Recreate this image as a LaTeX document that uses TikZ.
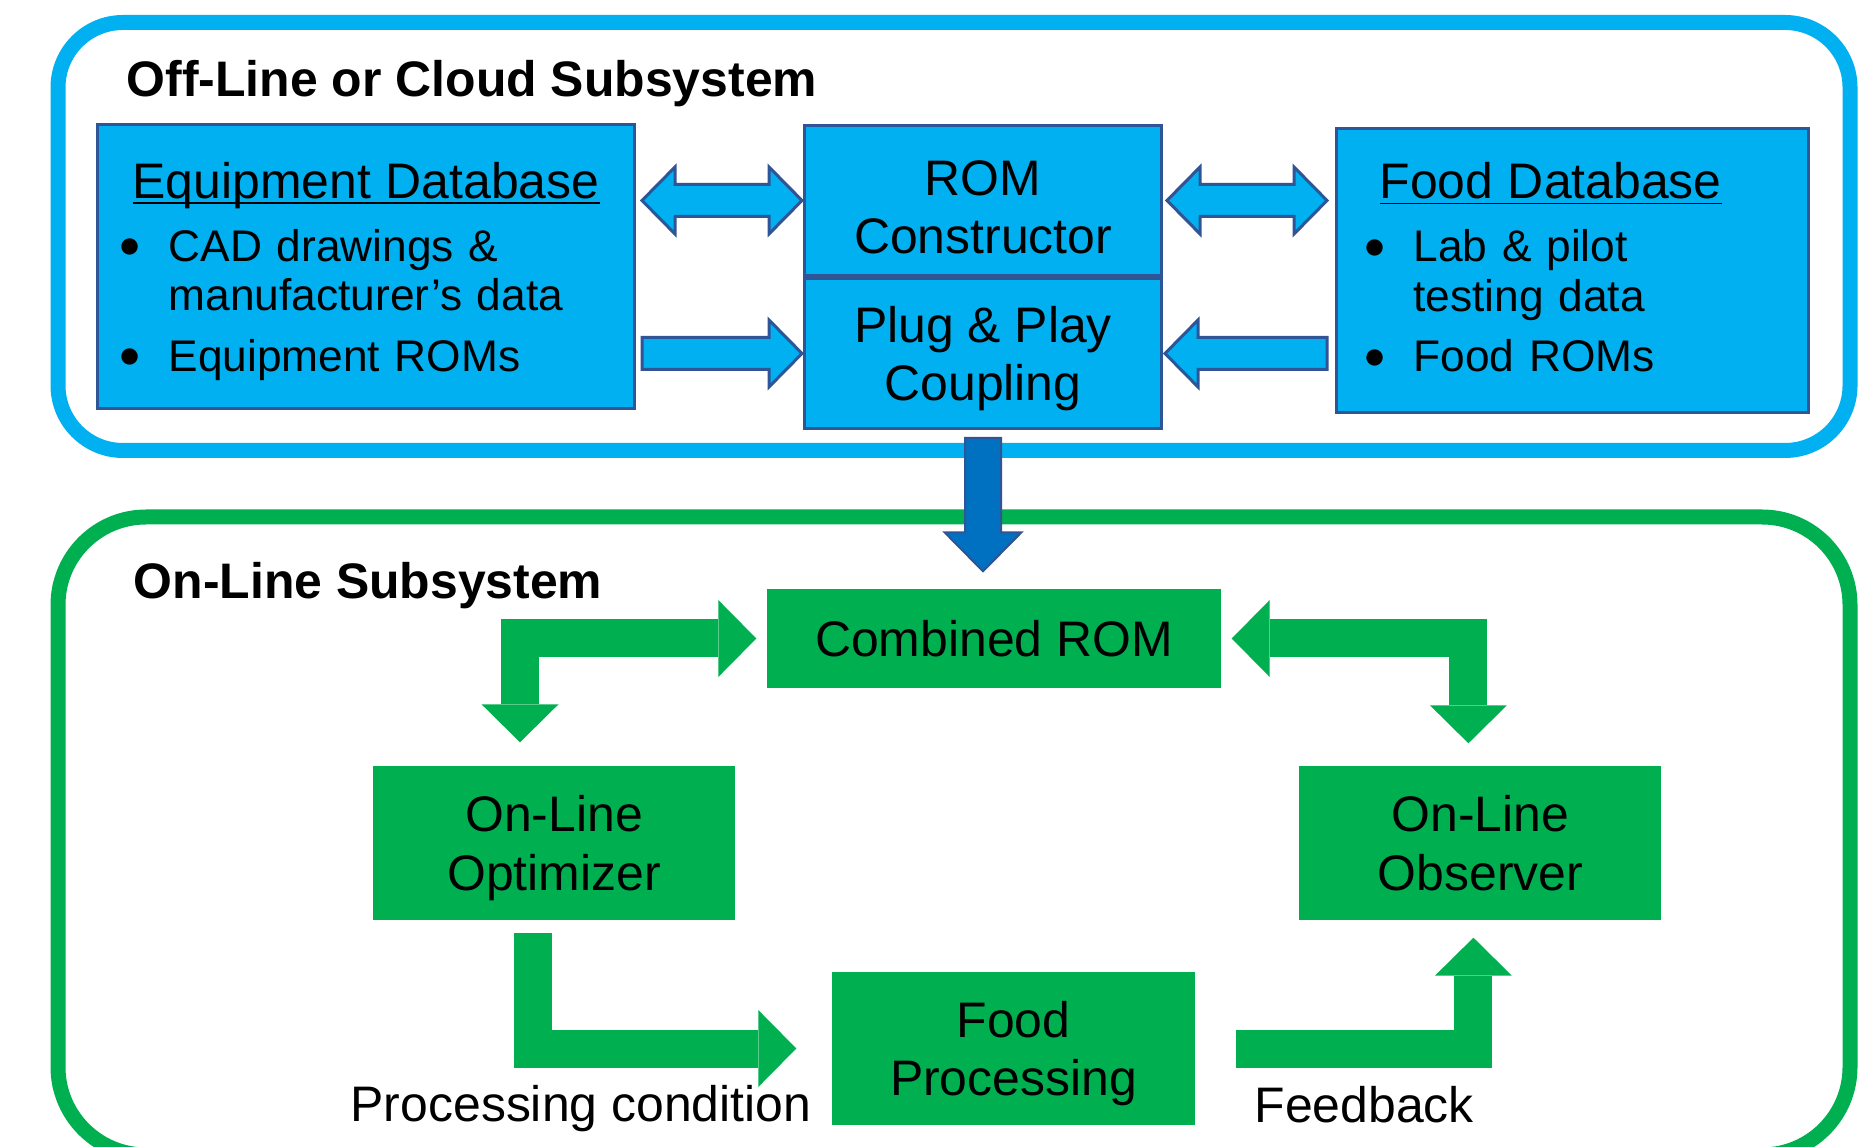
\documentclass[tikz,border=0pt]{standalone}
\usepackage{fontspec}
\setmainfont{Liberation Sans}
\usepackage{tikz}
\usetikzlibrary{arrows.meta, positioning, calc}
\definecolor{cloudblue}{RGB}{0,176,240}
\definecolor{edgeblue}{RGB}{47,85,151}
\definecolor{pushblue}{RGB}{0,112,192}
\definecolor{onlinegreen}{RGB}{0,176,80}

\tikzset{
  block one/.style n args={3}{to path={
      ($(\tikztotarget)!#1!(\tikztostart)$) coordinate (tb)
      ($(\tikztostart)!#3!90:(\tikztotarget)$)
      -- ($(tb)!#3!90:(\tikztotarget)$) -- ($(tb)!#2!90:(\tikztotarget)$)
      -- (\tikztotarget)
      -- ($(tb)!#2!-90:(\tikztotarget)$) -- ($(tb)!#3!-90:(\tikztotarget)$)
      -- ($(\tikztostart)!#3!-90:(\tikztotarget)$) -- cycle}},
  block two/.style n args={3}{to path={
      ($(\tikztotarget)!#1!(\tikztostart)$) coordinate (tb)
      ($(\tikztostart)!#1!(\tikztotarget)$) coordinate (sb)
      (\tikztostart)
      -- ($(sb)!#2!90:(\tikztotarget)$) -- ($(sb)!#3!90:(\tikztotarget)$)
      -- ($(tb)!#3!90:(\tikztotarget)$) -- ($(tb)!#2!90:(\tikztotarget)$)
      -- (\tikztotarget)
      -- ($(tb)!#2!-90:(\tikztotarget)$) -- ($(tb)!#3!-90:(\tikztotarget)$)
      -- ($(sb)!#3!-90:(\tikztotarget)$) -- ($(sb)!#2!-90:(\tikztotarget)$) -- cycle}}
}

\begin{document}
\begin{tikzpicture}[
    node distance=0cm,
    dbbox/.style={rectangle, draw=edgeblue, fill=cloudblue, line width=0.03cm,
                  minimum width=5.37cm, minimum height=2.84cm, text width=4.93cm,
                  inner xsep=0.22cm, align=left,
                  font=\fontsize{12.6}{14.2}\selectfont},
    rombox/.style={rectangle, draw=edgeblue, fill=cloudblue, line width=0.03cm,
                   minimum width=3.57cm, minimum height=1.50cm, align=center,
                   font=\fontsize{14.2}{16.5}\selectfont},
    livebox/.style={rectangle, fill=onlinegreen, minimum width=3.62cm,
                    minimum height=1.54cm, align=center,
                    font=\fontsize{14.2}{16.6}\selectfont},
    sysframe/.style={rounded corners=0.65cm, line width=0.15cm},
    heading/.style={anchor=base west, inner sep=0pt,
                    font=\bfseries\fontsize{14.2}{17}\selectfont},
    flowtag/.style={anchor=base west, inner sep=0pt,
                    font=\fontsize{14.2}{17}\selectfont},
    cloudarrow/.style={draw=edgeblue, fill=cloudblue, line width=0.03cm},
    pusharrow/.style={draw=edgeblue, fill=pushblue, line width=0.02cm},
    greenflow/.style={draw=onlinegreen, line width=0.38cm, line join=miter,
                      >={Triangle[length=0.38cm, width=0.77cm, line width=0pt]}}
  ]
    \useasboundingbox (0,0) rectangle (18.74,11.46);
    \clip (0,0) rectangle (18.74,11.46);

    \draw[sysframe, draw=cloudblue] (0.58,6.955) rectangle (18.50,11.235);
    \draw[sysframe, draw=onlinegreen, rounded corners=0.88cm] (0.58,-0.09) rectangle (18.50,6.29);

    \node[heading] (offtitle) at (1.26,10.49) {Off-Line or Cloud Subsystem};
    \node[heading] (ontitle)  at (1.33,5.47)  {On-Line Subsystem};

    \node[dbbox] (eqdb) at (3.66,8.795) {%
      {\fontsize{14.2}{14.2}\selectfont\hspace*{0.13cm}\underline{\raisebox{0pt}[\height][0pt]{Equipment Database}}}\\[3.7pt]
      \makebox[0.49cm][l]{\raisebox{1pt}{$\bullet$}}CAD drawings \&\\
      \hspace*{0.49cm}manufacturer's data\\[2.9pt]
      \makebox[0.49cm][l]{\raisebox{1pt}{$\bullet$}}\smash{Equipment ROMs}};
    \node[rombox] (romc) at (9.83,9.455) {\rule{0pt}{0.49cm}ROM\\Constructor};
    \node[rombox, below=of romc] (plug) {Plug \& Play\\\smash{Coupling}};
    \node[dbbox, minimum width=4.72cm, text width=4.16cm, inner xsep=0.28cm] (fdb) at (15.725,8.755) {%
      {\fontsize{14.2}{14.2}\selectfont\hspace*{0.15cm}\underline{\raisebox{0pt}[\height][0pt]{Food Database}}}\\[3.7pt]
      \makebox[0.49cm][l]{\raisebox{1pt}{$\bullet$}}Lab \& pilot\\
      \hspace*{0.49cm}testing data\\[2.9pt]
      \makebox[0.49cm][l]{\raisebox{1pt}{$\bullet$}}Food ROMs\rule[-0.07cm]{0pt}{0pt}};

    \node[livebox, minimum width=4.54cm, minimum height=0.99cm] (crom) at (9.94,5.075) {Combined ROM};
    \node[livebox] (opt) at (5.54,3.03) {On-Line\\\smash{Optimizer}};
    \node[livebox, right=5.63cm of opt] (obs) {On-Line\\Observer};
    \node[livebox, minimum width=3.63cm, minimum height=1.53cm] (fproc) at (10.135,0.975) {Food\\\smash{Processing}};

    \node[flowtag] (condtag) at (3.50,0.25) {Processing condition};
    \node[flowtag] (backtag) at (12.54,0.24) {Feedback};

    \draw[cloudarrow, block two={0.33cm}{0.335cm}{0.16cm}]
      ([xshift=0.06cm]eqdb.east |- romc.west) to ([xshift=-0.01cm]romc.west);
    \draw[cloudarrow, block one={0.33cm}{0.335cm}{0.16cm}]
      ([xshift=0.06cm]eqdb.east |- plug.west) to ([xshift=-0.01cm]plug.west);
    \draw[cloudarrow, block two={0.33cm}{0.335cm}{0.16cm}]
      ([xshift=0.04cm]romc.east) to ([xshift=-0.08cm]fdb.west |- romc.east);
    \draw[cloudarrow, block one={0.33cm}{0.335cm}{0.16cm}]
      ([xshift=-0.08cm]fdb.west |- plug.east) to ([xshift=0.02cm]plug.east);
    \draw[pusharrow, block one={0.39cm}{0.385cm}{0.18cm}]
      ([yshift=-0.08cm]plug.south) to ([yshift=0.17cm]plug.south |- crom.north);

    \draw[greenflow, <->] ([xshift=-0.10cm]crom.west) -| ([xshift=-0.34cm, yshift=0.23cm]opt.north);
    \draw[greenflow, <->] ([xshift=0.10cm]crom.east) -| ([xshift=-0.12cm, yshift=0.22cm]obs.north);
    \draw[greenflow, ->] ([xshift=-0.21cm, yshift=-0.12cm]opt.south) |- ([xshift=-0.35cm]fproc.west);
    \draw[greenflow, ->] ([xshift=0.40cm]fproc.east) -| ([xshift=-0.07cm, yshift=-0.17cm]obs.south);
  \end{tikzpicture}
\end{document}
